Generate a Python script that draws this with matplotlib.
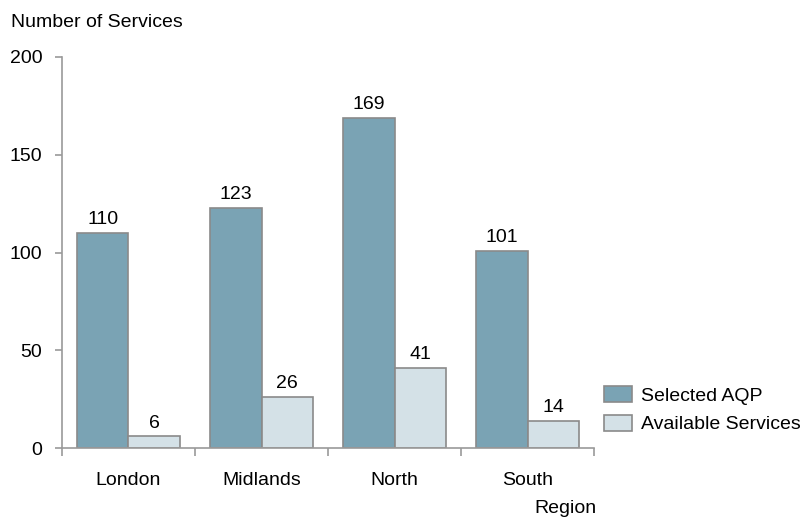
import matplotlib.pyplot as plt
import numpy as np

plt.rcParams['font.family'] = ['Liberation Sans', 'DejaVu Sans']

regions   = ['London', 'Midlands', 'North', 'South']
selected  = [110, 123, 169, 101]
available = [6, 26, 41, 14]

C_SEL   = '#7aa3b4'
C_AVAIL = '#d4e1e7'
C_EDGE  = '#8a8a8a'
C_AXIS  = '#9a9a9a'
FS = 14

fig = plt.figure(figsize=(8.04, 5.17), dpi=100)
ax = fig.add_axes([0.077, 0.133, 0.662, 0.757])

x = np.arange(len(regions))
w = 0.385
b1 = ax.bar(x - w / 2, selected, w, color=C_SEL, edgecolor=C_EDGE, linewidth=1.2, label='Selected AQP')
b2 = ax.bar(x + w / 2, available, w, color=C_AVAIL, edgecolor=C_EDGE, linewidth=1.2, label='Available Services')

for bars in (b1, b2):
    for r in bars:
        ax.text(r.get_x() + r.get_width() / 2, r.get_height() + 2.5, f'{int(r.get_height())}',
                ha='center', va='bottom', fontsize=FS)

ax.set_xlim(-0.5, len(regions) - 0.5)
ax.set_ylim(0, 200)
ax.set_yticks([0, 50, 100, 150, 200])

# ticks between categories, labels at centers
ax.set_xticks(np.arange(-0.5, len(regions), 1.0))
ax.set_xticklabels([])
ax.set_xticks(x, minor=True)
ax.set_xticklabels(regions, minor=True, fontsize=FS)
ax.tick_params(axis='x', which='minor', length=0, pad=17)
ax.tick_params(axis='x', which='major', length=6, color=C_AXIS, width=1.2)
ax.tick_params(axis='y', length=5, color=C_AXIS, width=1.2, labelsize=FS, pad=9)

for s in ['top', 'right']:
    ax.spines[s].set_visible(False)
for s in ['left', 'bottom']:
    ax.spines[s].set_color(C_AXIS)
    ax.spines[s].set_linewidth(1.2)

fig.text(0.014, 0.957, 'Number of Services', fontsize=FS, ha='left', va='center')
fig.text(0.703, 0.017, 'Region', fontsize=FS, ha='center', va='center')

ax.legend(loc='upper left', bbox_to_anchor=(1.0075, 0.173), frameon=False, fontsize=FS,
          borderpad=0.3, handlelength=1.45, handleheight=0.88, labelspacing=0.5,
          handletextpad=0.45, borderaxespad=0)

fig.savefig('out.png', dpi=100)
